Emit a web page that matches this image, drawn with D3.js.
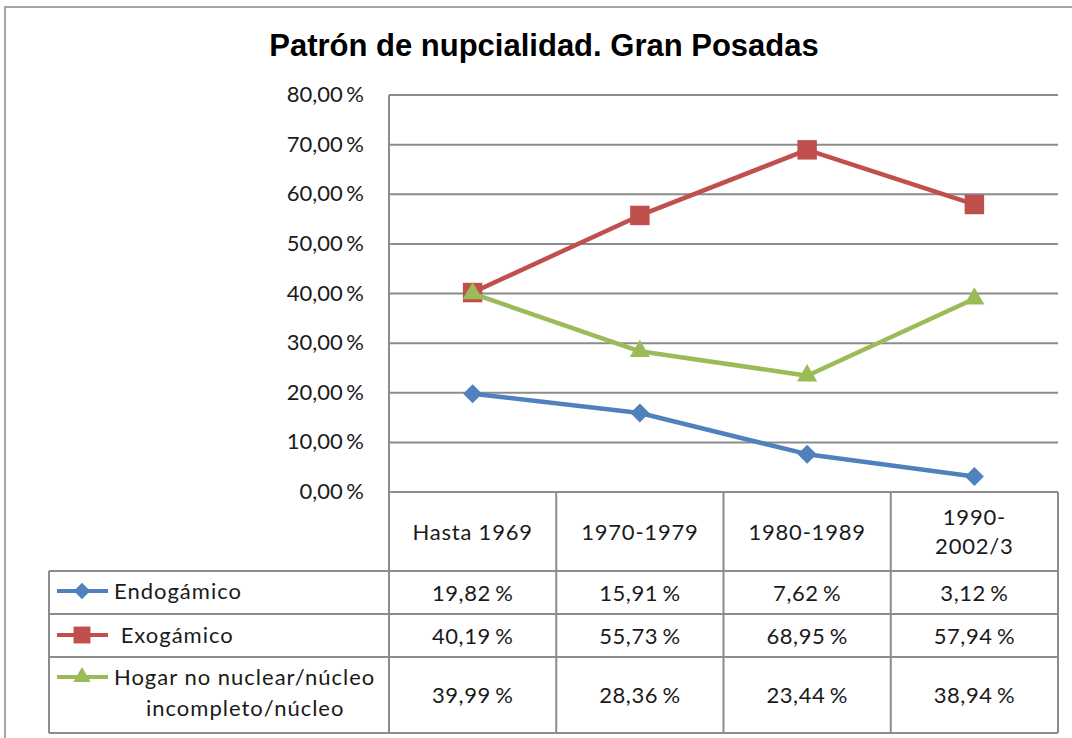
<!DOCTYPE html>
<html>
<head>
<meta charset="utf-8">
<script src="https://cdn.jsdelivr.net/npm/d3@7"></script>
<style>
  body { margin: 0; background: #fff; }
  text { font-family: Lato, "Open Sans", sans-serif; fill: #1a1a1a; }
</style>
</head>
<body>
<script>
// data
const categories = ["Hasta 1969", "1970-1979", "1980-1989", "1990-2002/3"];
const categoryLines = [["Hasta 1969"], ["1970-1979"], ["1980-1989"], ["1990-", "2002/3"]];
const seriesNames = ["Endogámico", "Exogámico", "Hogar no nuclear/núcleo incompleto/núcleo"];
const legendLines = [["Endogámico"], [" Exogámico"], ["Hogar no nuclear/núcleo", "incompleto/núcleo"]];
const endogamico = [19.82, 15.91, 7.62, 3.12];
const exogamico = [40.19, 55.73, 68.95, 57.94];
const hogar = [39.99, 28.36, 23.44, 38.94];
const yTicks = [0, 10, 20, 30, 40, 50, 60, 70, 80];

const seriesValues = [endogamico, exogamico, hogar];
const colors = ["#4f81bd", "#c0504d", "#9bbb59"];
const symbols = [d3.symbolSquare, d3.symbolSquare, d3.symbolTriangle];
const symbolSizes = [180, 380, 175];
const symbolRotate = [45, 0, 0];

var W = 1072, H = 738;
var plot = {left: 389, right: 1058, top: 95, bottom: 492};
var rowEdges = [492, 571, 614, 657, 733]; // table row borders
var tableLeft = 49;

var es = d3.formatLocale({decimal: ",", thousands: ".", grouping: [3], currency: ["", " €"]});
var fmt = v => es.format(".2f")(v) + " %";

var svg = d3.select("body").append("svg")
    .attr("width", W)
    .attr("height", H);

// outer chart frame
svg.append("rect")
    .attr("x", 5).attr("y", 7)
    .attr("width", 1090).attr("height", 760)
    .attr("fill", "none")
    .attr("stroke", "#a6a6a6")
    .attr("stroke-width", 2);

svg.append("text")
    .attr("x", 544)
    .attr("y", 56)
    .attr("text-anchor", "middle")
    .style("font-family", "'Liberation Sans', Arial, sans-serif")
    .style("font-weight", "bold")
    .style("font-size", "31px")
    .style("fill", "#000")
    .text("Patrón de nupcialidad. Gran Posadas");

var x = d3.scaleBand()
    .domain(categories)
    .range([plot.left, plot.right]);

var y = d3.scaleLinear()
    .domain([0, 80])
    .range([plot.bottom, plot.top]);

// gridlines
svg.append("g")
    .selectAll("line")
    .data(yTicks)
    .enter().append("line")
    .attr("x1", plot.left).attr("x2", plot.right)
    .attr("y1", d => y(d)).attr("y2", d => y(d))
    .attr("stroke", "#8c8c8c")
    .attr("stroke-width", 2);

// y axis
svg.append("line")
    .attr("x1", plot.left).attr("x2", plot.left)
    .attr("y1", plot.top).attr("y2", plot.bottom)
    .attr("stroke", "#8c8c8c")
    .attr("stroke-width", 2);

svg.append("g")
    .selectAll("text")
    .data(yTicks)
    .enter().append("text")
    .attr("x", 364)
    .attr("y", d => y(d) + 7)
    .attr("text-anchor", "end")
    .style("font-size", "22px")
    .style("word-spacing", "-2px")
    .text(d => fmt(d));

// table grid
var grid = svg.append("g")
    .attr("stroke", "#8c8c8c")
    .attr("stroke-width", 2)
    .attr("fill", "none");

grid.selectAll(".hrow")
    .data(rowEdges)
    .enter().append("line")
    .attr("x1", (d, i) => i < 1 ? plot.left : tableLeft)
    .attr("x2", plot.right)
    .attr("y1", d => d).attr("y2", d => d);

var colEdges = categories.map(c => x(c)).concat([plot.right]);
grid.selectAll(".vcol")
    .data(colEdges)
    .enter().append("line")
    .attr("x1", d => d).attr("x2", d => d)
    .attr("y1", rowEdges[0]).attr("y2", rowEdges[rowEdges.length - 1]);

grid.append("line")
    .attr("x1", tableLeft).attr("x2", tableLeft)
    .attr("y1", rowEdges[1]).attr("y2", rowEdges[rowEdges.length - 1]);

// category header cells
categoryLines.forEach(function(lines, i) {
    svg.append("g")
        .selectAll("text")
        .data(lines)
        .enter().append("text")
        .attr("x", x(categories[i]) + x.bandwidth() / 2)
        .attr("y", (d, j) => (rowEdges[0] + rowEdges[1]) / 2 + 8 + (j - (lines.length - 1) / 2) * 29)
        .attr("text-anchor", "middle")
        .style("font-size", "22px")
        .style("letter-spacing", "0.8px")
        .text(d => d);
});

// value cells
seriesValues.forEach(function(vals, s) {
    var cy = (rowEdges[s + 1] + rowEdges[s + 2]) / 2 + 8;
    svg.append("g")
        .selectAll("text")
        .data(vals)
        .enter().append("text")
        .attr("x", (d, i) => x(categories[i]) + x.bandwidth() / 2)
        .attr("y", cy)
        .attr("text-anchor", "middle")
        .style("font-size", "22px")
        .style("letter-spacing", "0.6px")
        .style("word-spacing", "-2px")
        .text(d => fmt(d));
});

// series lines and markers
var line = d3.line()
    .x((d, i) => x(categories[i]) + x.bandwidth() / 2)
    .y(d => y(d));

seriesValues.forEach(function(vals, s) {
    svg.append("path")
        .datum(vals)
        .attr("d", line)
        .attr("fill", "none")
        .attr("stroke", colors[s])
        .attr("stroke-width", 4.5)
        .attr("stroke-linejoin", "round");

    svg.append("g")
        .selectAll("path")
        .data(vals)
        .enter().append("path")
        .attr("d", d3.symbol().type(symbols[s]).size(symbolSizes[s]))
        .attr("transform", (d, i) => "translate(" + (x(categories[i]) + x.bandwidth() / 2) + "," + y(d) + ") rotate(" + symbolRotate[s] + ")")
        .attr("fill", colors[s]);
});

// legend keys in the table
var legendY = [591, 635, 677];
seriesValues.forEach(function(vals, s) {
    var g = svg.append("g");
    g.append("line")
        .attr("x1", 57).attr("x2", 108)
        .attr("y1", legendY[s]).attr("y2", legendY[s])
        .attr("stroke", colors[s])
        .attr("stroke-width", 4);
    g.append("path")
        .attr("d", d3.symbol().type(symbols[s]).size(symbolSizes[s] * 0.75))
        .attr("transform", "translate(82," + legendY[s] + ") rotate(" + symbolRotate[s] + ")")
        .attr("fill", colors[s]);
    g.selectAll("text")
        .data(legendLines[s])
        .enter().append("text")
        .attr("x", (d, j) => j === 0 ? 114 : 146)
        .attr("y", (d, j) => legendY[s] + 8 + j * 31)
        .style("white-space", "pre")
        .style("font-size", "22px")
        .style("letter-spacing", "1px")
        .text(d => d);
});
</script>
</body>
</html>
